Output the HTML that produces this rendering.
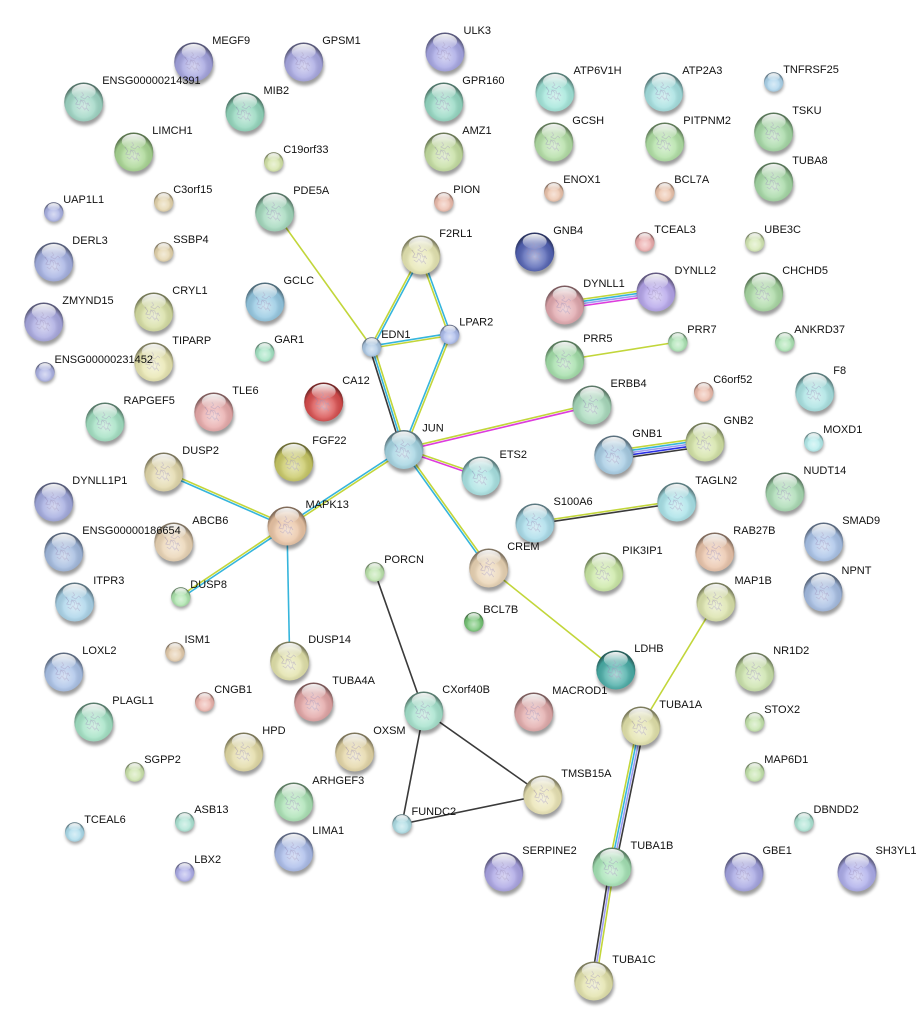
<!DOCTYPE html>
<html><head><meta charset="utf-8"><style>
html,body{margin:0;padding:0;background:#fff;}
svg{display:block;}
text{font-family:"Liberation Sans",Arial,sans-serif;font-size:11px;fill:#111;}
.y{stroke:#c2d63a}.c{stroke:#35b5dc}.m{stroke:#dd3ddd}.l{stroke:#9c9cf2}.b{stroke:#2a30e6}.k{stroke:#3a3a3a}
line{stroke-width:1.6;fill:none}
</style></head><body>
<svg width="924" height="1026" viewBox="0 0 924 1026" xmlns="http://www.w3.org/2000/svg">
<defs>
<filter id="bl" x="-50%" y="-50%" width="200%" height="200%"><feGaussianBlur stdDeviation="1.6"/></filter>
<radialGradient id="sd" cx="50%" cy="62%" r="56%">
<stop offset="0" stop-color="#fff" stop-opacity=".55"/>
<stop offset=".5" stop-color="#fff" stop-opacity=".18"/>
<stop offset=".82" stop-color="#000" stop-opacity=".06"/>
<stop offset="1" stop-color="#000" stop-opacity=".45"/>
</radialGradient>
<linearGradient id="hl" x1="0" y1="0" x2="0" y2="1">
<stop offset="0" stop-color="#fff" stop-opacity=".95"/>
<stop offset="1" stop-color="#fff" stop-opacity=".05"/>
</linearGradient>
<g id="SB"><circle cx="1" cy="4" r="19.5" fill="#000" opacity=".38" filter="url(#bl)"/></g>
<g id="OB"><path d="M-9,-5 l3,4 l-2,3 l4,1 l1,-5 l3,3 l-1,4 l3,2 l2,-6 l2,3 M-7,5 l3,2 l2,-3 l3,4 l2,-2 l2,3 M-2,-10 l2,3 l-3,2 l4,2 l3,-3 l2,2 M-4,0 l2,-2 l3,1 l1,3 l3,-1" stroke="#6e5a9a" stroke-width=".7" fill="none" opacity=".45"/><circle r="19.5" fill="url(#sd)"/><ellipse cy="-10.5" rx="12" ry="7.5" fill="url(#hl)"/></g>
<g id="SS"><circle cx=".5" cy="2.5" r="9.7" fill="#000" opacity=".35" filter="url(#bl)"/></g>
<g id="OS"><circle r="9.7" fill="url(#sd)"/><ellipse cy="-5.2" rx="6" ry="3.7" fill="url(#hl)"/></g>
</defs>
<rect width="924" height="1026" fill="#fff"/>

<!-- edges -->
<line class="y" x1="274.7" y1="212" x2="371.7" y2="347"/>
<line class="c" x1="287" y1="526" x2="289.7" y2="661"/>
<line class="y" x1="488.7" y1="568" x2="615.8" y2="670"/>
<line class="y" x1="564.7" y1="360" x2="677.8" y2="342"/>
<line class="k" x1="374.7" y1="572" x2="423.8" y2="711"/>
<line class="k" x1="423.8" y1="711" x2="402" y2="824"/>
<line class="k" x1="423.8" y1="711" x2="542.8" y2="795"/>
<line class="k" x1="402" y1="824" x2="542.8" y2="795"/>
<line class="y" x1="716" y1="602" x2="640.8" y2="726"/>

<g transform="translate(371.7 347) rotate(-61.91)"><line class="y" x1="0" x2="104.3" y1="-1.1" y2="-1.1"/><line class="c" x1="0" x2="104.3" y1="1.1" y2="1.1"/></g>
<g transform="translate(371.7 347) rotate(-9.10)"><line class="c" x1="0" x2="79" y1="-1.1" y2="-1.1"/><line class="y" x1="0" x2="79" y1="1.1" y2="1.1"/></g>
<g transform="translate(420.8 255) rotate(70.02)"><line class="y" x1="0" x2="84.6" y1="1.1" y2="1.1"/><line class="c" x1="0" x2="84.6" y1="-1.1" y2="-1.1"/></g>
<g transform="translate(371.7 347) rotate(72.61)"><line class="k" x1="0" x2="107.4" y1="2.2" y2="2.2"/><line class="c" x1="0" x2="107.4" y1="0" y2="0"/><line class="y" x1="0" x2="107.4" y1="-2.2" y2="-2.2"/></g>
<g transform="translate(449.7 334.5) rotate(111.76)"><line class="c" x1="0" x2="123.8" y1="1.1" y2="1.1"/><line class="y" x1="0" x2="123.8" y1="-1.1" y2="-1.1"/></g>
<g transform="translate(403.8 449.5) rotate(-13.30)"><line class="y" x1="0" x2="193.4" y1="-1.1" y2="-1.1"/><line class="m" x1="0" x2="193.4" y1="1.1" y2="1.1"/></g>
<g transform="translate(403.8 449.5) rotate(18.95)"><line class="y" x1="0" x2="81.6" y1="-1.1" y2="-1.1"/><line class="m" x1="0" x2="81.6" y1="1.1" y2="1.1"/></g>
<g transform="translate(403.8 449.5) rotate(146.78)"><line class="c" x1="0" x2="139.6" y1="1.1" y2="1.1"/><line class="y" x1="0" x2="139.6" y1="-1.1" y2="-1.1"/></g>
<g transform="translate(403.8 449.5) rotate(54.38)"><line class="c" x1="0" x2="145.8" y1="1.1" y2="1.1"/><line class="y" x1="0" x2="145.8" y1="-1.1" y2="-1.1"/></g>
<g transform="translate(287 526) rotate(-156.33)"><line class="y" x1="0" x2="134.5" y1="1.1" y2="1.1"/><line class="c" x1="0" x2="134.5" y1="-1.1" y2="-1.1"/></g>
<g transform="translate(287 526) rotate(146.24)"><line class="y" x1="0" x2="127.7" y1="1.1" y2="1.1"/><line class="c" x1="0" x2="127.7" y1="-1.1" y2="-1.1"/></g>
<g transform="translate(564.7 305) rotate(-8.10)"><line class="y" x1="0" x2="92.2" y1="-3.3" y2="-3.3"/><line class="c" x1="0" x2="92.2" y1="-1.1" y2="-1.1"/><line class="l" x1="0" x2="92.2" y1="1.1" y2="1.1"/><line class="m" x1="0" x2="92.2" y1="3.3" y2="3.3"/></g>
<g transform="translate(613.8 455) rotate(-8.11)"><line class="y" x1="0" x2="92.1" y1="-4.4" y2="-4.4"/><line class="c" x1="0" x2="92.1" y1="-2.2" y2="-2.2"/><line class="l" x1="0" x2="92.1" y1="0" y2="0"/><line class="b" x1="0" x2="92.1" y1="2.2" y2="2.2"/><line class="k" x1="0" x2="92.1" y1="4.4" y2="4.4"/></g>
<g transform="translate(535 523) rotate(-8.42)"><line class="y" x1="0" x2="143.3" y1="-1.1" y2="-1.1"/><line class="k" x1="0" x2="143.3" y1="1.1" y2="1.1"/></g>
<g transform="translate(640.8 726) rotate(101.54)"><line class="y" x1="0" x2="143.9" y1="3.3" y2="3.3"/><line class="c" x1="0" x2="143.9" y1="1.1" y2="1.1"/><line class="l" x1="0" x2="143.9" y1="-1.1" y2="-1.1"/><line class="k" x1="0" x2="143.9" y1="-3.3" y2="-3.3"/></g>
<g transform="translate(612 867) rotate(99.07)"><line class="k" x1="0" x2="115.4" y1="2.2" y2="2.2"/><line class="l" x1="0" x2="115.4" y1="0" y2="0"/><line class="y" x1="0" x2="115.4" y1="-2.2" y2="-2.2"/></g>

<!-- big nodes -->
<g transform="translate(193.7 62)"><use href="#SB"/><circle r="19.5" fill="#a3a3df"/><use href="#OB"/><text x="18.5" y="-18">MEGF9</text></g>
<g transform="translate(303.7 62)"><use href="#SB"/><circle r="19.5" fill="#a8a8e2"/><use href="#OB"/><text x="18.5" y="-18">GPSM1</text></g>
<g transform="translate(83.7 102)"><use href="#SB"/><circle r="19.5" fill="#9ed6c4"/><use href="#OB"/><text x="18.5" y="-18">ENSG00000214391</text></g>
<g transform="translate(245 112)"><use href="#SB"/><circle r="19.5" fill="#92d6bc"/><use href="#OB"/><text x="18.5" y="-18">MIB2</text></g>
<g transform="translate(133.8 152)"><use href="#SB"/><circle r="19.5" fill="#a8d692"/><use href="#OB"/><text x="18.5" y="-18">LIMCH1</text></g>
<g transform="translate(445 52)"><use href="#SB"/><circle r="19.5" fill="#a6a6e4"/><use href="#OB"/><text x="18.5" y="-18">ULK3</text></g>
<g transform="translate(443.8 102)"><use href="#SB"/><circle r="19.5" fill="#94d8c2"/><use href="#OB"/><text x="18.5" y="-18">GPR160</text></g>
<g transform="translate(443.8 152)"><use href="#SB"/><circle r="19.5" fill="#c4dea0"/><use href="#OB"/><text x="18.5" y="-18">AMZ1</text></g>
<g transform="translate(555 92)"><use href="#SB"/><circle r="19.5" fill="#a2e6da"/><use href="#OB"/><text x="18.5" y="-18">ATP6V1H</text></g>
<g transform="translate(553.8 142)"><use href="#SB"/><circle r="19.5" fill="#b2dea4"/><use href="#OB"/><text x="18.5" y="-18">GCSH</text></g>
<g transform="translate(663.7 92)"><use href="#SB"/><circle r="19.5" fill="#a4e0e0"/><use href="#OB"/><text x="18.5" y="-18">ATP2A3</text></g>
<g transform="translate(664.8 142)"><use href="#SB"/><circle r="19.5" fill="#b0e0a4"/><use href="#OB"/><text x="18.5" y="-18">PITPNM2</text></g>
<g transform="translate(773.7 132)"><use href="#SB"/><circle r="19.5" fill="#a4d8a4"/><use href="#OB"/><text x="18.5" y="-18">TSKU</text></g>
<g transform="translate(773.7 182)"><use href="#SB"/><circle r="19.5" fill="#a4d8a4"/><use href="#OB"/><text x="18.5" y="-18">TUBA8</text></g>
<g transform="translate(274.7 212)"><use href="#SB"/><circle r="19.5" fill="#a2d8bc"/><use href="#OB"/><text x="18.5" y="-18">PDE5A</text></g>
<g transform="translate(53.8 262)"><use href="#SB"/><circle r="19.5" fill="#a4b0e2"/><use href="#OB"/><text x="18.5" y="-18">DERL3</text></g>
<g transform="translate(265 302)"><use href="#SB"/><circle r="19.5" fill="#94c8e2"/><use href="#OB"/><text x="18.5" y="-18">GCLC</text></g>
<g transform="translate(43.8 322)"><use href="#SB"/><circle r="19.5" fill="#a8a8e0"/><use href="#OB"/><text x="18.5" y="-18">ZMYND15</text></g>
<g transform="translate(153.8 312)"><use href="#SB"/><circle r="19.5" fill="#d6dea2"/><use href="#OB"/><text x="18.5" y="-18">CRYL1</text></g>
<g transform="translate(420.8 255)"><use href="#SB"/><circle r="19.5" fill="#e6e6b2"/><use href="#OB"/><text x="18.5" y="-18">F2RL1</text></g>
<g transform="translate(534.7 252)"><use href="#SB"/><circle r="19.5" fill="#5262b4"/><use href="#OB"/><text x="18.5" y="-18">GNB4</text></g>
<g transform="translate(564.7 305)"><use href="#SB"/><circle r="19.5" fill="#e0a6ac"/><use href="#OB"/><text x="18.5" y="-18">DYNLL1</text></g>
<g transform="translate(656 292)"><use href="#SB"/><circle r="19.5" fill="#b4a4ea"/><use href="#OB"/><text x="18.5" y="-18">DYNLL2</text></g>
<g transform="translate(763.7 292)"><use href="#SB"/><circle r="19.5" fill="#a8d8a2"/><use href="#OB"/><text x="18.5" y="-18">CHCHD5</text></g>
<g transform="translate(564.7 360)"><use href="#SB"/><circle r="19.5" fill="#a2dea8"/><use href="#OB"/><text x="18.5" y="-18">PRR5</text></g>
<g transform="translate(153.8 362)"><use href="#SB"/><circle r="19.5" fill="#e8e6b0"/><use href="#OB"/><text x="18.5" y="-18">TIPARP</text></g>
<g transform="translate(105 422)"><use href="#SB"/><circle r="19.5" fill="#a2e0c2"/><use href="#OB"/><text x="18.5" y="-18">RAPGEF5</text></g>
<g transform="translate(213.8 412)"><use href="#SB"/><circle r="19.5" fill="#e8aaaa"/><use href="#OB"/><text x="18.5" y="-18">TLE6</text></g>
<g transform="translate(323.7 402)"><use href="#SB"/><circle r="19.5" fill="#d84c4c"/><use href="#OB"/><text x="18.5" y="-18">CA12</text></g>
<g transform="translate(293.8 462)"><use href="#SB"/><circle r="19.5" fill="#c8c864"/><use href="#OB"/><text x="18.5" y="-18">FGF22</text></g>
<g transform="translate(403.8 449.5)"><use href="#SB"/><circle r="19.5" fill="#a4d4e2"/><use href="#OB"/><text x="18.5" y="-18">JUN</text></g>
<g transform="translate(592 405)"><use href="#SB"/><circle r="19.5" fill="#a8dabc"/><use href="#OB"/><text x="18.5" y="-18">ERBB4</text></g>
<g transform="translate(814.8 392)"><use href="#SB"/><circle r="19.5" fill="#a8e2e2"/><use href="#OB"/><text x="18.5" y="-18">F8</text></g>
<g transform="translate(163.8 472)"><use href="#SB"/><circle r="19.5" fill="#e2d8aa"/><use href="#OB"/><text x="18.5" y="-18">DUSP2</text></g>
<g transform="translate(53.8 502)"><use href="#SB"/><circle r="19.5" fill="#a2aadf"/><use href="#OB"/><text x="18.5" y="-18">DYNLL1P1</text></g>
<g transform="translate(287 526)"><use href="#SB"/><circle r="19.5" fill="#eac4a4"/><use href="#OB"/><text x="18.5" y="-18">MAPK13</text></g>
<g transform="translate(481 476)"><use href="#SB"/><circle r="19.5" fill="#a8e2e2"/><use href="#OB"/><text x="18.5" y="-18">ETS2</text></g>
<g transform="translate(613.8 455)"><use href="#SB"/><circle r="19.5" fill="#a6cce4"/><use href="#OB"/><text x="18.5" y="-18">GNB1</text></g>
<g transform="translate(705 442)"><use href="#SB"/><circle r="19.5" fill="#d2e2a4"/><use href="#OB"/><text x="18.5" y="-18">GNB2</text></g>
<g transform="translate(785 492)"><use href="#SB"/><circle r="19.5" fill="#a8dab2"/><use href="#OB"/><text x="18.5" y="-18">NUDT14</text></g>
<g transform="translate(173.8 542)"><use href="#SB"/><circle r="19.5" fill="#ead4b4"/><use href="#OB"/><text x="18.5" y="-18">ABCB6</text></g>
<g transform="translate(63.8 552)"><use href="#SB"/><circle r="19.5" fill="#a2badf"/><use href="#OB"/><text x="18.5" y="-18">ENSG00000186654</text></g>
<g transform="translate(535 523)"><use href="#SB"/><circle r="19.5" fill="#a8dcea"/><use href="#OB"/><text x="18.5" y="-18">S100A6</text></g>
<g transform="translate(676.8 502)"><use href="#SB"/><circle r="19.5" fill="#a8e2e8"/><use href="#OB"/><text x="18.5" y="-18">TAGLN2</text></g>
<g transform="translate(823.7 542)"><use href="#SB"/><circle r="19.5" fill="#a8c2e8"/><use href="#OB"/><text x="18.5" y="-18">SMAD9</text></g>
<g transform="translate(714.8 552)"><use href="#SB"/><circle r="19.5" fill="#eac4aa"/><use href="#OB"/><text x="18.5" y="-18">RAB27B</text></g>
<g transform="translate(488.7 568)"><use href="#SB"/><circle r="19.5" fill="#ead4b4"/><use href="#OB"/><text x="18.5" y="-18">CREM</text></g>
<g transform="translate(603.8 572)"><use href="#SB"/><circle r="19.5" fill="#cae8a4"/><use href="#OB"/><text x="18.5" y="-18">PIK3IP1</text></g>
<g transform="translate(823 592)"><use href="#SB"/><circle r="19.5" fill="#a4bce2"/><use href="#OB"/><text x="18.5" y="-18">NPNT</text></g>
<g transform="translate(74.7 602)"><use href="#SB"/><circle r="19.5" fill="#aad4ea"/><use href="#OB"/><text x="18.5" y="-18">ITPR3</text></g>
<g transform="translate(716 602)"><use href="#SB"/><circle r="19.5" fill="#dae2aa"/><use href="#OB"/><text x="18.5" y="-18">MAP1B</text></g>
<g transform="translate(63.8 672)"><use href="#SB"/><circle r="19.5" fill="#aac2e8"/><use href="#OB"/><text x="18.5" y="-18">LOXL2</text></g>
<g transform="translate(289.7 661)"><use href="#SB"/><circle r="19.5" fill="#e2e2aa"/><use href="#OB"/><text x="18.5" y="-18">DUSP14</text></g>
<g transform="translate(615.8 670)"><use href="#SB"/><circle r="19.5" fill="#48aca6"/><use href="#OB"/><text x="18.5" y="-18">LDHB</text></g>
<g transform="translate(754.7 672)"><use href="#SB"/><circle r="19.5" fill="#cae2aa"/><use href="#OB"/><text x="18.5" y="-18">NR1D2</text></g>
<g transform="translate(313.7 702)"><use href="#SB"/><circle r="19.5" fill="#e2a4a4"/><use href="#OB"/><text x="18.5" y="-18">TUBA4A</text></g>
<g transform="translate(93.8 722)"><use href="#SB"/><circle r="19.5" fill="#a2e2c4"/><use href="#OB"/><text x="18.5" y="-18">PLAGL1</text></g>
<g transform="translate(423.8 711)"><use href="#SB"/><circle r="19.5" fill="#a4e2cc"/><use href="#OB"/><text x="18.5" y="-18">CXorf40B</text></g>
<g transform="translate(533.8 712)"><use href="#SB"/><circle r="19.5" fill="#e2aaaa"/><use href="#OB"/><text x="18.5" y="-18">MACROD1</text></g>
<g transform="translate(640.8 726)"><use href="#SB"/><circle r="19.5" fill="#e2e2aa"/><use href="#OB"/><text x="18.5" y="-18">TUBA1A</text></g>
<g transform="translate(243.8 752)"><use href="#SB"/><circle r="19.5" fill="#e2daa4"/><use href="#OB"/><text x="18.5" y="-18">HPD</text></g>
<g transform="translate(354.7 752)"><use href="#SB"/><circle r="19.5" fill="#e4d6a6"/><use href="#OB"/><text x="18.5" y="-18">OXSM</text></g>
<g transform="translate(293.8 802)"><use href="#SB"/><circle r="19.5" fill="#aae2b4"/><use href="#OB"/><text x="18.5" y="-18">ARHGEF3</text></g>
<g transform="translate(542.8 795)"><use href="#SB"/><circle r="19.5" fill="#eae4b4"/><use href="#OB"/><text x="18.5" y="-18">TMSB15A</text></g>
<g transform="translate(293.8 852)"><use href="#SB"/><circle r="19.5" fill="#aabcea"/><use href="#OB"/><text x="18.5" y="-18">LIMA1</text></g>
<g transform="translate(503.8 872)"><use href="#SB"/><circle r="19.5" fill="#aaa4e4"/><use href="#OB"/><text x="18.5" y="-18">SERPINE2</text></g>
<g transform="translate(612 867)"><use href="#SB"/><circle r="19.5" fill="#a4e2b4"/><use href="#OB"/><text x="18.5" y="-18">TUBA1B</text></g>
<g transform="translate(744 872)"><use href="#SB"/><circle r="19.5" fill="#a4a4e2"/><use href="#OB"/><text x="18.5" y="-18">GBE1</text></g>
<g transform="translate(857 872)"><use href="#SB"/><circle r="19.5" fill="#acacea"/><use href="#OB"/><text x="18.5" y="-18">SH3YL1</text></g>
<g transform="translate(593.8 981)"><use href="#SB"/><circle r="19.5" fill="#e2e2aa"/><use href="#OB"/><text x="18.5" y="-18">TUBA1C</text></g>

<!-- small nodes -->
<g transform="translate(273.7 162)"><use href="#SS"/><circle r="9.7" fill="#d4e4a8"/><use href="#OS"/><text x="9.5" y="-9">C19orf33</text></g>
<g transform="translate(53.7 212)"><use href="#SS"/><circle r="9.7" fill="#aab2e4"/><use href="#OS"/><text x="9.5" y="-9">UAP1L1</text></g>
<g transform="translate(163.7 202)"><use href="#SS"/><circle r="9.7" fill="#e4d4ac"/><use href="#OS"/><text x="9.5" y="-9">C3orf15</text></g>
<g transform="translate(163.7 252)"><use href="#SS"/><circle r="9.7" fill="#e4d4ac"/><use href="#OS"/><text x="9.5" y="-9">SSBP4</text></g>
<g transform="translate(443.8 202)"><use href="#SS"/><circle r="9.7" fill="#ecbcac"/><use href="#OS"/><text x="9.5" y="-9">PION</text></g>
<g transform="translate(553.8 192)"><use href="#SS"/><circle r="9.7" fill="#ecc4ac"/><use href="#OS"/><text x="9.5" y="-9">ENOX1</text></g>
<g transform="translate(664.8 192)"><use href="#SS"/><circle r="9.7" fill="#ecc4ac"/><use href="#OS"/><text x="9.5" y="-9">BCL7A</text></g>
<g transform="translate(773.7 82)"><use href="#SS"/><circle r="9.7" fill="#acd4ec"/><use href="#OS"/><text x="9.5" y="-9">TNFRSF25</text></g>
<g transform="translate(644.8 242)"><use href="#SS"/><circle r="9.7" fill="#ecacac"/><use href="#OS"/><text x="9.5" y="-9">TCEAL3</text></g>
<g transform="translate(754.8 242)"><use href="#SS"/><circle r="9.7" fill="#d4e8b4"/><use href="#OS"/><text x="9.5" y="-9">UBE3C</text></g>
<g transform="translate(677.8 342)"><use href="#SS"/><circle r="9.7" fill="#ace4b4"/><use href="#OS"/><text x="9.5" y="-9">PRR7</text></g>
<g transform="translate(784.8 342)"><use href="#SS"/><circle r="9.7" fill="#ace4b4"/><use href="#OS"/><text x="9.5" y="-9">ANKRD37</text></g>
<g transform="translate(371.7 347)"><use href="#SS"/><circle r="9.7" fill="#acc8e4"/><use href="#OS"/><text x="9.5" y="-9">EDN1</text></g>
<g transform="translate(449.7 334.5)"><use href="#SS"/><circle r="9.7" fill="#acbcec"/><use href="#OS"/><text x="9.5" y="-9">LPAR2</text></g>
<g transform="translate(45 372)"><use href="#SS"/><circle r="9.7" fill="#acb2e4"/><use href="#OS"/><text x="9.5" y="-9">ENSG00000231452</text></g>
<g transform="translate(264.7 352)"><use href="#SS"/><circle r="9.7" fill="#a4e4c4"/><use href="#OS"/><text x="9.5" y="-9">GAR1</text></g>
<g transform="translate(703.7 392)"><use href="#SS"/><circle r="9.7" fill="#ecbcac"/><use href="#OS"/><text x="9.5" y="-9">C6orf52</text></g>
<g transform="translate(813.7 442)"><use href="#SS"/><circle r="9.7" fill="#b4ecec"/><use href="#OS"/><text x="9.5" y="-9">MOXD1</text></g>
<g transform="translate(180.8 597)"><use href="#SS"/><circle r="9.7" fill="#ace4ac"/><use href="#OS"/><text x="9.5" y="-9">DUSP8</text></g>
<g transform="translate(374.7 572)"><use href="#SS"/><circle r="9.7" fill="#bce4ac"/><use href="#OS"/><text x="9.5" y="-9">PORCN</text></g>
<g transform="translate(473.8 622)"><use href="#SS"/><circle r="9.7" fill="#74c474"/><use href="#OS"/><text x="9.5" y="-9">BCL7B</text></g>
<g transform="translate(175 652)"><use href="#SS"/><circle r="9.7" fill="#e4ccac"/><use href="#OS"/><text x="9.5" y="-9">ISM1</text></g>
<g transform="translate(204.7 702)"><use href="#SS"/><circle r="9.7" fill="#ecb4ac"/><use href="#OS"/><text x="9.5" y="-9">CNGB1</text></g>
<g transform="translate(134.7 772)"><use href="#SS"/><circle r="9.7" fill="#cce4ac"/><use href="#OS"/><text x="9.5" y="-9">SGPP2</text></g>
<g transform="translate(754.7 722)"><use href="#SS"/><circle r="9.7" fill="#c4e4ac"/><use href="#OS"/><text x="9.5" y="-9">STOX2</text></g>
<g transform="translate(754.7 772)"><use href="#SS"/><circle r="9.7" fill="#c4e4ac"/><use href="#OS"/><text x="9.5" y="-9">MAP6D1</text></g>
<g transform="translate(184.7 822)"><use href="#SS"/><circle r="9.7" fill="#ace4d4"/><use href="#OS"/><text x="9.5" y="-9">ASB13</text></g>
<g transform="translate(74.7 832)"><use href="#SS"/><circle r="9.7" fill="#acdcec"/><use href="#OS"/><text x="9.5" y="-9">TCEAL6</text></g>
<g transform="translate(402 824)"><use href="#SS"/><circle r="9.7" fill="#acdce4"/><use href="#OS"/><text x="9.5" y="-9">FUNDC2</text></g>
<g transform="translate(804 822)"><use href="#SS"/><circle r="9.7" fill="#ace4d4"/><use href="#OS"/><text x="9.5" y="-9">DBNDD2</text></g>
<g transform="translate(184.7 872)"><use href="#SS"/><circle r="9.7" fill="#acace8"/><use href="#OS"/><text x="9.5" y="-9">LBX2</text></g>
</svg>
</body></html>
